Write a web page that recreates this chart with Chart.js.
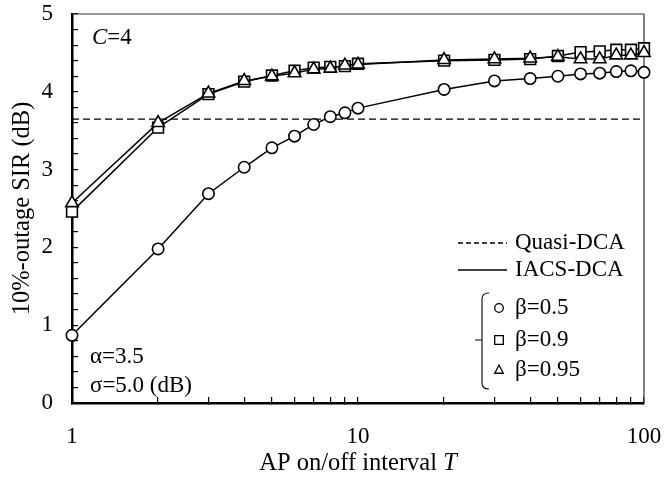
<!DOCTYPE html>
<html>
<head>
<meta charset="utf-8">
<script src="https://cdn.jsdelivr.net/npm/chart.js@4.4.1/dist/chart.umd.min.js"></script>
<style>
  html, body { margin: 0; padding: 0; background: #fff; }
  #wrap { width: 667px; height: 481px; }
</style>
</head>
<body>
<div id="wrap"><canvas id="c" width="667" height="481"></canvas></div>
<script>
// ── Data ───────────────────────────────────────────────
const T_VALUES   = [1, 2, 3, 4, 5, 6, 7, 8, 9, 10, 20, 30, 40, 50, 60, 70, 80, 90, 100];
const BETA_05    = [0.87, 1.98, 2.69, 3.03, 3.28, 3.43, 3.58, 3.68, 3.73, 3.79, 4.03, 4.14, 4.17, 4.20, 4.23, 4.24, 4.26, 4.27, 4.25];
const BETA_09    = [2.46, 3.54, 3.97, 4.13, 4.21, 4.27, 4.31, 4.32, 4.33, 4.36, 4.40, 4.41, 4.42, 4.46, 4.51, 4.52, 4.54, 4.54, 4.56];
const BETA_095   = [2.57, 3.60, 3.98, 4.14, 4.20, 4.24, 4.29, 4.30, 4.34, 4.35, 4.41, 4.42, 4.43, 4.45, 4.42, 4.42, 4.47, 4.47, 4.50];
const QUASI_X    = [1, 100];
const QUASI_Y    = [3.65, 3.65];
const X_TICKS    = [1, 2, 3, 4, 5, 6, 7, 8, 9, 10, 20, 30, 40, 50, 60, 70, 80, 90, 100];
const X_LABELS   = [1, 10, 100];
const Y_LABELS   = [0, 1, 2, 3, 4, 5];
const BETA_NAMES = ['β=0.5', 'β=0.9', 'β=0.95'];

const SERIF = '"Liberation Serif", "Times New Roman", serif';
const _pts = (xs, ys) => xs.map((x, i) => ({ x, y: ys[i] }));

// ── Marker helpers (legend) ────────────────────────────
function _marker(ctx, style, x, y, r) {
  ctx.beginPath();
  if (style === 'circle') {
    ctx.arc(x, y, r, 0, Math.PI * 2);
  } else if (style === 'rect') {
    ctx.rect(x - r, y - r, 2 * r, 2 * r);
  } else {
    ctx.moveTo(x, y - r * 1.15);
    ctx.lineTo(x + r, y + r * 0.75);
    ctx.lineTo(x - r, y + r * 0.75);
    ctx.closePath();
  }
  ctx.fillStyle = '#fff';
  ctx.fill();
  ctx.stroke();
}

// ── Plugin: frame, texts, legend ───────────────────────
const _decorPlugin = {
  id: 'decor',
  beforeDatasetsDraw(chart) {
    const { ctx, chartArea: a } = chart;
    ctx.save();
    ctx.strokeStyle = '#333';
    ctx.lineWidth = 1.2;
    ctx.beginPath();
    ctx.moveTo(a.left, a.top);
    ctx.lineTo(a.right, a.top);
    ctx.lineTo(a.right, a.bottom);
    ctx.stroke();
    ctx.restore();
  },
  afterDraw(chart) {
    const { ctx, chartArea: a } = chart;
    ctx.save();
    ctx.fillStyle = '#000';
    ctx.strokeStyle = '#000';
    ctx.textBaseline = 'middle';

    // axis titles
    const xt1 = 'AP on/off interval ';
    ctx.font = `24.5px ${SERIF}`;
    const w1 = ctx.measureText(xt1).width;
    ctx.font = `italic 24.5px ${SERIF}`;
    const w2 = ctx.measureText('T').width;
    const xs = (a.left + a.right) / 2 - (w1 + w2) / 2;
    ctx.textAlign = 'left';
    ctx.font = `24.5px ${SERIF}`;
    ctx.fillText(xt1, xs, 464);
    ctx.font = `italic 24.5px ${SERIF}`;
    ctx.fillText('T', xs + w1, 464);

    ctx.save();
    ctx.translate(23, (a.top + a.bottom) / 2);
    ctx.rotate(-Math.PI / 2);
    ctx.textAlign = 'center';
    ctx.font = `24.5px ${SERIF}`;
    ctx.fillText('10%-outage SIR (dB)', 0, 0);
    ctx.restore();

    // in-plot annotations
    ctx.textAlign = 'left';
    ctx.font = `italic 23px ${SERIF}`;
    ctx.fillText('C', 92, 38);
    const wc = ctx.measureText('C').width;
    ctx.font = `23px ${SERIF}`;
    ctx.fillText('=4', 92 + wc, 38);
    ctx.fillText('α=3.5', 90, 357);
    ctx.fillText('σ=5.0 (dB)', 90, 386);

    // legend: line styles
    ctx.lineWidth = 1.3;
    ctx.setLineDash([5, 3]);
    ctx.beginPath(); ctx.moveTo(458, 243); ctx.lineTo(507, 243); ctx.stroke();
    ctx.setLineDash([]);
    ctx.lineWidth = 1.6;
    ctx.beginPath(); ctx.moveTo(458, 270); ctx.lineTo(507, 270); ctx.stroke();
    ctx.fillText('Quasi-DCA', 515, 243);
    ctx.fillText('IACS-DCA', 515, 270);

    // legend: bracket
    ctx.lineWidth = 1.1;
    ctx.beginPath();
    ctx.moveTo(489, 293);
    ctx.quadraticCurveTo(482, 293, 482, 299);
    ctx.lineTo(482, 383);
    ctx.quadraticCurveTo(482, 389, 489, 389);
    ctx.moveTo(475, 340);
    ctx.lineTo(482, 340);
    ctx.stroke();

    // legend: markers
    const ys = [308, 340, 370];
    const styles = ['circle', 'rect', 'triangle'];
    ctx.lineWidth = 1.3;
    styles.forEach((s, i) => _marker(ctx, s, 499, ys[i], 4.3));
    ctx.fillStyle = '#000';
    ctx.font = `23px ${SERIF}`;
    BETA_NAMES.forEach((t, i) => ctx.fillText(t, 515, ys[i]));
    ctx.restore();
  },
};

// ── Chart ──────────────────────────────────────────────
const _series = (data, style, radius, order) => ({
  data,
  order,
  borderColor: '#000',
  borderWidth: 1.5,
  backgroundColor: '#fff',
  pointStyle: style,
  pointRadius: radius,
  pointBorderWidth: 1.6,
  pointBackgroundColor: '#fff',
  pointBorderColor: '#000',
  tension: 0,
  clip: false,
});

const _TICK_FONT = { family: SERIF, size: 23 };

new Chart(document.getElementById('c'), {
  type: 'line',
  data: {
    datasets: [
      _series(_pts(T_VALUES, BETA_095), 'triangle', 7.2, 0),
      _series(_pts(T_VALUES, BETA_09),  'rect',     7.6, 1),
      _series(_pts(T_VALUES, BETA_05),  'circle',   5.7, 2),
      {
        data: _pts(QUASI_X, QUASI_Y),
        order: 3,
        borderColor: '#000',
        borderWidth: 1.3,
        borderDash: [7, 4],
        pointRadius: 0,
        clip: false,
      },
    ],
  },
  options: {
    responsive: false,
    animation: false,
    events: [],
    layout: { padding: { top: 14, right: 23, left: 0, bottom: 0 } },
    plugins: { legend: { display: false }, tooltip: { enabled: false } },
    scales: {
      x: {
        type: 'logarithmic',
        min: 1,
        max: 100,
        afterBuildTicks: (s) => { s.ticks = X_TICKS.map(v => ({ value: v })); },
        afterFit: (s) => { s.height = 78; s.paddingLeft = 0; s.paddingRight = 0; },
        ticks: {
          autoSkip: false,
          maxRotation: 0,
          color: '#000',
          font: _TICK_FONT,
          padding: 26,
          callback: (v) => (X_LABELS.includes(v) ? String(v) : ''),
        },
        grid: { drawOnChartArea: false, tickLength: -6, color: '#000', lineWidth: 1.2 },
        border: { color: '#000', width: 2.5 },
      },
      y: {
        min: 0,
        max: 5,
        afterFit: (s) => { s.width = 72; s.paddingTop = 0; s.paddingBottom = 0; },
        ticks: {
          stepSize: 0.2,
          maxTicksLimit: 100,
          autoSkip: false,
          color: '#000',
          font: _TICK_FONT,
          padding: 25,
          callback: (v) => {
            const r = Math.round(v);
            return Math.abs(v - r) < 1e-6 && Y_LABELS.includes(r) ? String(r) : '';
          },
        },
        grid: { drawOnChartArea: false, tickLength: -6, color: '#000', lineWidth: 1.2 },
        border: { color: '#000', width: 2.5 },
      },
    },
  },
  plugins: [_decorPlugin],
});
</script>
</body>
</html>
